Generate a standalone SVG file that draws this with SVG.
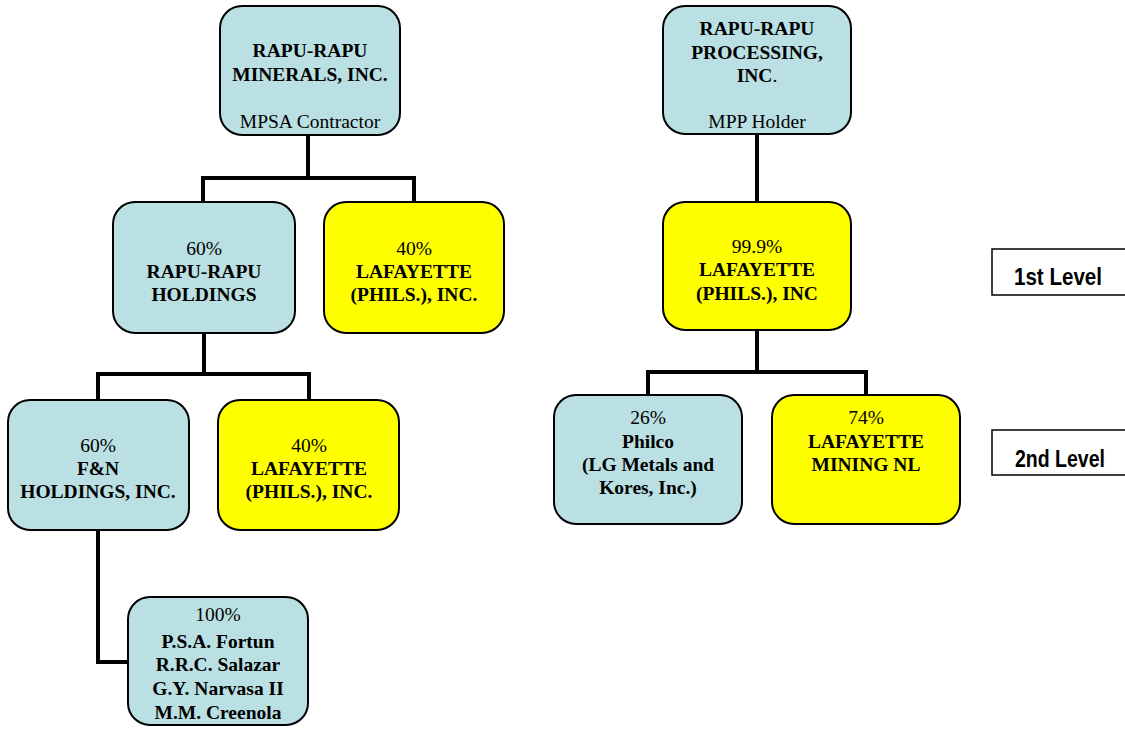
<svg xmlns="http://www.w3.org/2000/svg" width="1125" height="732" viewBox="0 0 1125 732">
<style>
.b{stroke:#000;stroke-width:2}
.t{fill:#BAE0E3}
.y{fill:#FFFF00}
text{font-family:"Liberation Serif","Times New Roman",serif;font-size:19.5px;fill:#000;text-anchor:middle}
.bd{font-weight:bold}
.lv{font-family:"Liberation Sans",Arial,sans-serif;font-weight:bold;font-size:23px;text-anchor:start}
.c{fill:none;stroke:#000;stroke-width:4}
</style>
<rect width="1125" height="732" fill="#fff"/>
<g id="connectors">
<path class="c" d="M308 135V178M203 202V178H414V202"/>
<path class="c" d="M204 333V374M98 400V374H309V400"/>
<path class="c" d="M98 530V662H128"/>
<path class="c" d="M757 134V202"/>
<path class="c" d="M757 330V372M648 395V372H866V395"/>
</g>
<g id="n1"><rect class="b t" x="220" y="6" width="180" height="129" rx="22"/>
<text x="310" y="57" class="bd">RAPU-RAPU</text><text x="310" y="81" class="bd">MINERALS, INC.</text><text x="310" y="128">MPSA Contractor</text></g>
<g id="n2"><rect class="b t" x="663" y="6" width="188" height="128" rx="22"/>
<text x="757" y="35" class="bd">RAPU-RAPU</text><text x="757" y="59" class="bd">PROCESSING,</text><text x="757" y="82"><tspan class="bd">INC</tspan>.</text><text x="757" y="128">MPP Holder</text></g>
<g id="n3"><rect class="b t" x="113" y="202" width="182" height="131" rx="22"/>
<text x="204" y="255">60%</text><text x="204" y="278" class="bd">RAPU-RAPU</text><text x="204" y="301" class="bd">HOLDINGS</text></g>
<g id="n4"><rect class="b y" x="324" y="202" width="180" height="131" rx="22"/>
<text x="414" y="255">40%</text><text x="414" y="278" class="bd">LAFAYETTE</text><text x="414" y="301" class="bd">(PHILS.), INC.</text></g>
<g id="n5"><rect class="b y" x="663" y="202" width="188" height="128" rx="22"/>
<text x="757" y="253">99.9%</text><text x="757" y="276" class="bd">LAFAYETTE</text><text x="757" y="300" class="bd">(PHILS.), INC</text></g>
<g id="n6"><rect class="b t" x="8" y="400" width="181" height="130" rx="22"/>
<text x="98" y="452">60%</text><text x="98" y="475" class="bd">F&amp;N</text><text x="98" y="498" class="bd">HOLDINGS, INC.</text></g>
<g id="n7"><rect class="b y" x="218" y="400" width="181" height="130" rx="22"/>
<text x="309" y="452">40%</text><text x="309" y="475" class="bd">LAFAYETTE</text><text x="309" y="498" class="bd">(PHILS.), INC.</text></g>
<g id="n8"><rect class="b t" x="554" y="395" width="188" height="129" rx="22"/>
<text x="648" y="424">26%</text><text x="648" y="448" class="bd">Philco</text><text x="648" y="471" class="bd">(LG Metals and</text><text x="648" y="494" class="bd">Kores, Inc.)</text></g>
<g id="n9"><rect class="b y" x="772" y="395" width="188" height="129" rx="22"/>
<text x="866" y="424">74%</text><text x="866" y="448" class="bd">LAFAYETTE</text><text x="866" y="471" class="bd">MINING NL</text></g>
<g id="n10"><rect class="b t" x="128" y="597" width="180" height="128" rx="22"/>
<text x="218" y="621">100%</text><text x="218" y="648" class="bd">P.S.A. Fortun</text><text x="218" y="671" class="bd">R.R.C. Salazar</text><text x="218" y="695" class="bd">G.Y. Narvasa II</text><text x="218" y="719" class="bd">M.M. Creenola</text></g>
<g id="lv1"><rect x="992" y="249" width="140" height="46" fill="#fff" stroke="#000" stroke-width="1.5"/><text class="lv" x="1014" y="285" textLength="88" lengthAdjust="spacingAndGlyphs">1st Level</text></g>
<g id="lv2"><rect x="992" y="430" width="140" height="45" fill="#fff" stroke="#000" stroke-width="1.5"/><text class="lv" x="1015" y="467" textLength="90" lengthAdjust="spacingAndGlyphs">2nd Level</text></g>
</svg>
